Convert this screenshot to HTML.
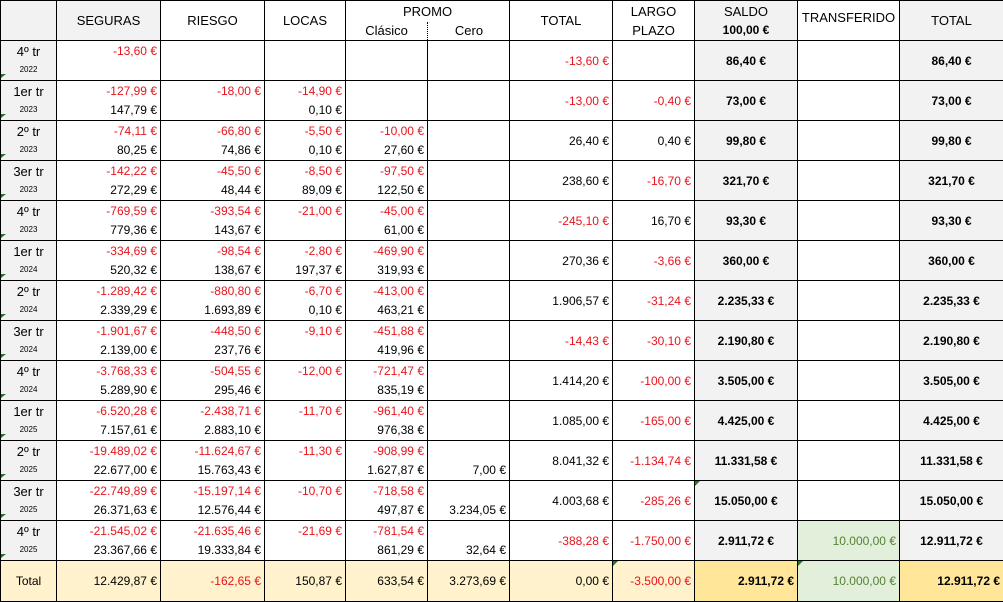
<!DOCTYPE html>
<html><head><meta charset="utf-8"><style>
body{margin:0;background:#fff;font-family:"Liberation Sans",Arial,sans-serif;font-size:12px;color:#000}
table{border-collapse:collapse;table-layout:fixed;width:1003px}
td{border:1px solid #000;padding:0;height:39px;position:relative;vertical-align:top;overflow:hidden}
.t,.b,.c{position:absolute;right:3px;white-space:nowrap}
.t{top:3px}.b{top:22px}.c{top:13px}
.r{color:#e8141c}.g{color:#548235}
.lab{background:#f2f2f2;text-align:center}
.lab .q{position:absolute;top:3px;left:0;right:0;font-size:13px}
.lab .y{position:absolute;top:24px;left:0;right:0;font-size:8px}
.lab:after{content:"";position:absolute;left:0;bottom:2px;border-left:5px solid #1e7b1e;border-bottom:4px solid transparent;border-top:0}
.sal{background:#f2f2f2;font-weight:bold}
.sal .c{right:auto;left:0;width:100%;text-align:center}
.tot{background:#f2f2f2;font-weight:bold}
.tot .c{right:auto;left:0;width:100%;text-align:center}
.hd{text-align:center;font-size:13px}
.hd div{position:absolute;left:0;right:0;top:12px}
tr.T td{background:#fff2cc;height:40px}
tr.T td .c{top:13px}
tr.T td.yy{background:#ffe699;font-weight:bold}
td.gr,tr.T td.gr{background:#e2efda}
.tri:before{content:"";position:absolute;left:0;top:0;border-top:5px solid #1e7b1e;border-right:5px solid transparent}
</style></head><body>
<table>
<colgroup><col style="width:56px"><col style="width:104px"><col style="width:104px"><col style="width:81px"><col style="width:82px"><col style="width:82px"><col style="width:103px"><col style="width:82px"><col style="width:103px"><col style="width:102px"><col style="width:104px"></colgroup>
<tr>
<td style="background:#f2f2f2"></td>
<td class="hd" style="background:#f2f2f2"><div>SEGURAS</div></td>
<td class="hd"><div>RIESGO</div></td>
<td class="hd"><div>LOCAS</div></td>
<td colspan="2" style="text-align:center;font-size:13px"><div style="position:absolute;top:3px;left:0;right:0">PROMO</div><div style="position:absolute;top:22px;left:0;width:81px">Clásico</div><div style="position:absolute;top:21px;left:81px;height:20px;border-left:1px dotted #000"></div><div style="position:absolute;top:22px;left:82px;width:82px">Cero</div></td>
<td class="hd"><div>TOTAL</div></td>
<td class="hd"><div style="top:3px">LARGO</div><div style="top:22px">PLAZO</div></td>
<td class="hd" style="background:#f2f2f2"><div style="top:3px">SALDO</div><div style="top:22px;font-weight:bold;font-size:12px">100,00 €</div></td>
<td class="hd"><div style="top:9px">TRANSFERIDO</div></td>
<td class="hd" style="background:#f2f2f2"><div>TOTAL</div></td>
</tr>
<tr><td class="lab"><div class="q">4º tr</div><div class="y">2022</div></td><td><div class="t r">-13,60 €</div></td><td></td><td></td><td></td><td></td><td><div class="c r">-13,60 €</div></td><td></td><td class="sal"><div class="c">86,40 €</div></td><td></td><td class="tot"><div class="c">86,40 €</div></td></tr>
<tr><td class="lab"><div class="q">1er tr</div><div class="y">2023</div></td><td><div class="t r">-127,99 €</div><div class="b">147,79 €</div></td><td><div class="t r">-18,00 €</div></td><td><div class="t r">-14,90 €</div><div class="b">0,10 €</div></td><td></td><td></td><td><div class="c r">-13,00 €</div></td><td><div class="c r">-0,40 €</div></td><td class="sal"><div class="c">73,00 €</div></td><td></td><td class="tot"><div class="c">73,00 €</div></td></tr>
<tr><td class="lab"><div class="q">2º tr</div><div class="y">2023</div></td><td><div class="t r">-74,11 €</div><div class="b">80,25 €</div></td><td><div class="t r">-66,80 €</div><div class="b">74,86 €</div></td><td><div class="t r">-5,50 €</div><div class="b">0,10 €</div></td><td><div class="t r">-10,00 €</div><div class="b">27,60 €</div></td><td></td><td><div class="c">26,40 €</div></td><td><div class="c">0,40 €</div></td><td class="sal"><div class="c">99,80 €</div></td><td></td><td class="tot"><div class="c">99,80 €</div></td></tr>
<tr><td class="lab"><div class="q">3er tr</div><div class="y">2023</div></td><td><div class="t r">-142,22 €</div><div class="b">272,29 €</div></td><td><div class="t r">-45,50 €</div><div class="b">48,44 €</div></td><td><div class="t r">-8,50 €</div><div class="b">89,09 €</div></td><td><div class="t r">-97,50 €</div><div class="b">122,50 €</div></td><td></td><td><div class="c">238,60 €</div></td><td><div class="c r">-16,70 €</div></td><td class="sal"><div class="c">321,70 €</div></td><td></td><td class="tot"><div class="c">321,70 €</div></td></tr>
<tr><td class="lab"><div class="q">4º tr</div><div class="y">2023</div></td><td><div class="t r">-769,59 €</div><div class="b">779,36 €</div></td><td><div class="t r">-393,54 €</div><div class="b">143,67 €</div></td><td><div class="t r">-21,00 €</div></td><td><div class="t r">-45,00 €</div><div class="b">61,00 €</div></td><td></td><td><div class="c r">-245,10 €</div></td><td><div class="c">16,70 €</div></td><td class="sal"><div class="c">93,30 €</div></td><td></td><td class="tot"><div class="c">93,30 €</div></td></tr>
<tr><td class="lab"><div class="q">1er tr</div><div class="y">2024</div></td><td><div class="t r">-334,69 €</div><div class="b">520,32 €</div></td><td><div class="t r">-98,54 €</div><div class="b">138,67 €</div></td><td><div class="t r">-2,80 €</div><div class="b">197,37 €</div></td><td><div class="t r">-469,90 €</div><div class="b">319,93 €</div></td><td></td><td><div class="c">270,36 €</div></td><td><div class="c r">-3,66 €</div></td><td class="sal"><div class="c">360,00 €</div></td><td></td><td class="tot"><div class="c">360,00 €</div></td></tr>
<tr><td class="lab"><div class="q">2º tr</div><div class="y">2024</div></td><td><div class="t r">-1.289,42 €</div><div class="b">2.339,29 €</div></td><td><div class="t r">-880,80 €</div><div class="b">1.693,89 €</div></td><td><div class="t r">-6,70 €</div><div class="b">0,10 €</div></td><td><div class="t r">-413,00 €</div><div class="b">463,21 €</div></td><td></td><td><div class="c">1.906,57 €</div></td><td><div class="c r">-31,24 €</div></td><td class="sal"><div class="c">2.235,33 €</div></td><td></td><td class="tot"><div class="c">2.235,33 €</div></td></tr>
<tr><td class="lab"><div class="q">3er tr</div><div class="y">2024</div></td><td><div class="t r">-1.901,67 €</div><div class="b">2.139,00 €</div></td><td><div class="t r">-448,50 €</div><div class="b">237,76 €</div></td><td><div class="t r">-9,10 €</div></td><td><div class="t r">-451,88 €</div><div class="b">419,96 €</div></td><td></td><td><div class="c r">-14,43 €</div></td><td><div class="c r">-30,10 €</div></td><td class="sal"><div class="c">2.190,80 €</div></td><td></td><td class="tot"><div class="c">2.190,80 €</div></td></tr>
<tr><td class="lab"><div class="q">4º tr</div><div class="y">2024</div></td><td><div class="t r">-3.768,33 €</div><div class="b">5.289,90 €</div></td><td><div class="t r">-504,55 €</div><div class="b">295,46 €</div></td><td><div class="t r">-12,00 €</div></td><td><div class="t r">-721,47 €</div><div class="b">835,19 €</div></td><td></td><td><div class="c">1.414,20 €</div></td><td><div class="c r">-100,00 €</div></td><td class="sal"><div class="c">3.505,00 €</div></td><td></td><td class="tot"><div class="c">3.505,00 €</div></td></tr>
<tr><td class="lab"><div class="q">1er tr</div><div class="y">2025</div></td><td><div class="t r">-6.520,28 €</div><div class="b">7.157,61 €</div></td><td><div class="t r">-2.438,71 €</div><div class="b">2.883,10 €</div></td><td><div class="t r">-11,70 €</div></td><td><div class="t r">-961,40 €</div><div class="b">976,38 €</div></td><td></td><td><div class="c">1.085,00 €</div></td><td><div class="c r">-165,00 €</div></td><td class="sal"><div class="c">4.425,00 €</div></td><td></td><td class="tot"><div class="c">4.425,00 €</div></td></tr>
<tr><td class="lab"><div class="q">2º tr</div><div class="y">2025</div></td><td><div class="t r">-19.489,02 €</div><div class="b">22.677,00 €</div></td><td><div class="t r">-11.624,67 €</div><div class="b">15.763,43 €</div></td><td><div class="t r">-11,30 €</div></td><td><div class="t r">-908,99 €</div><div class="b">1.627,87 €</div></td><td><div class="b">7,00 €</div></td><td><div class="c">8.041,32 €</div></td><td><div class="c r">-1.134,74 €</div></td><td class="sal"><div class="c">11.331,58 €</div></td><td></td><td class="tot"><div class="c">11.331,58 €</div></td></tr>
<tr><td class="lab"><div class="q">3er tr</div><div class="y">2025</div></td><td><div class="t r">-22.749,89 €</div><div class="b">26.371,63 €</div></td><td><div class="t r">-15.197,14 €</div><div class="b">12.576,44 €</div></td><td><div class="t r">-10,70 €</div></td><td><div class="t r">-718,58 €</div><div class="b">497,87 €</div></td><td><div class="b">3.234,05 €</div></td><td><div class="c">4.003,68 €</div></td><td><div class="c r">-285,26 €</div></td><td class="sal tri"><div class="c">15.050,00 €</div></td><td></td><td class="tot"><div class="c">15.050,00 €</div></td></tr>
<tr><td class="lab"><div class="q">4º tr</div><div class="y">2025</div></td><td><div class="t r">-21.545,02 €</div><div class="b">23.367,66 €</div></td><td><div class="t r">-21.635,46 €</div><div class="b">19.333,84 €</div></td><td><div class="t r">-21,69 €</div></td><td><div class="t r">-781,54 €</div><div class="b">861,29 €</div></td><td><div class="b">32,64 €</div></td><td><div class="c r">-388,28 €</div></td><td><div class="c r">-1.750,00 €</div></td><td class="sal"><div class="c">2.911,72 €</div></td><td class="gr"><div class="c g">10.000,00 €</div></td><td class="tot"><div class="c">12.911,72 €</div></td></tr>
<tr class="T"><td style="text-align:center"><div class="c" style="left:0;right:0">Total</div></td><td><div class="c">12.429,87 €</div></td><td><div class="c r">-162,65 €</div></td><td><div class="c">150,87 €</div></td><td><div class="c">633,54 €</div></td><td><div class="c">3.273,69 €</div></td><td><div class="c">0,00 €</div></td><td class="tri"><div class="c r">-3.500,00 €</div></td><td class="yy"><div class="c">2.911,72 €</div></td><td class="gr tri"><div class="c g">10.000,00 €</div></td><td class="yy"><div class="c">12.911,72 €</div></td></tr>
</table>
</body></html>
